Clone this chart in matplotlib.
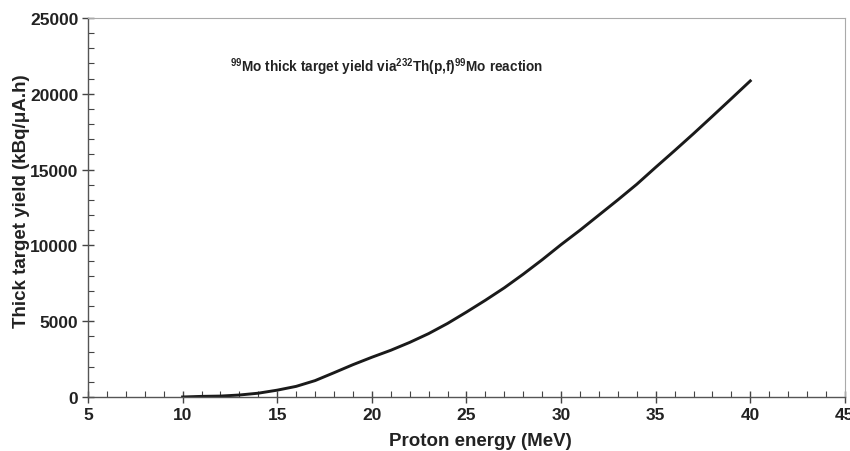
import matplotlib
matplotlib.use('Agg')
import matplotlib.pyplot as plt
from matplotlib.ticker import MultipleLocator

# values
energy = [10, 11, 12, 13, 14, 15, 16, 17, 18, 19, 20, 21, 22, 23, 24, 25,
          26, 27, 28, 29, 30, 31, 32, 33, 34, 35, 36, 37, 38, 39, 40]
yield_kbq = [0, 40, 60, 130, 250, 450, 700, 1080, 1600, 2130, 2620, 3080,
             3600, 4180, 4850, 5600, 6380, 7200, 8100, 9050, 10050, 11000,
             12000, 13000, 14030, 15150, 16250, 17370, 18520, 19680, 20850]

TITLE = r'$^{99}$Mo thick target yield via$^{232}$Th(p,f)$^{99}$Mo reaction'
XLABEL = 'Proton energy (MeV)'
YLABEL = 'Thick target yield (kBq/\u03bcA.h)'

plt.rcParams['font.family'] = ['Liberation Sans', 'DejaVu Sans']
plt.rcParams['font.weight'] = 'bold'
plt.rcParams['mathtext.fontset'] = 'custom'
plt.rcParams['mathtext.rm'] = 'Liberation Sans:bold'
plt.rcParams['mathtext.bf'] = 'Liberation Sans:bold'

fig = plt.figure(figsize=(8.5, 4.52), dpi=100)
ax = fig.add_axes([0.1035, 0.1195, 0.8905, 0.8385])

ax.plot(energy, yield_kbq, color='#1a1a1a', linewidth=2.1)

ax.set_xlim(5, 45)
ax.set_ylim(0, 25000)
ax.xaxis.set_major_locator(MultipleLocator(5))
ax.xaxis.set_minor_locator(MultipleLocator(1))
ax.yaxis.set_major_locator(MultipleLocator(5000))
ax.yaxis.set_minor_locator(MultipleLocator(1000))

ax.tick_params(which='major', direction='inout', length=8, width=1.0,
               color='#444444', labelsize=12.5, pad=3)
ax.tick_params(which='minor', direction='in', length=4, width=0.8,
               color='#444444')
for lab in ax.get_xticklabels() + ax.get_yticklabels():
    lab.set_fontweight('bold')
    lab.set_color('#222222')

for side in ['left', 'bottom']:
    ax.spines[side].set_color('#555555')
    ax.spines[side].set_linewidth(1.0)
for side in ['top', 'right']:
    ax.spines[side].set_color('#aaaaaa')
    ax.spines[side].set_linewidth(0.8)

ax.set_xlabel(XLABEL, fontsize=13.5, fontweight='bold', color='#222222')
ax.set_ylabel(YLABEL, fontsize=13.5, fontweight='bold', color='#222222')
ax.xaxis.set_label_coords(0.518, -0.092)
ax.yaxis.set_label_coords(-0.076, 0.52)

ax.text(0.395, 0.872, TITLE, transform=ax.transAxes,
        ha='center', va='center', fontsize=9.8, color='#222222')

fig.savefig('out.png', dpi=100)
